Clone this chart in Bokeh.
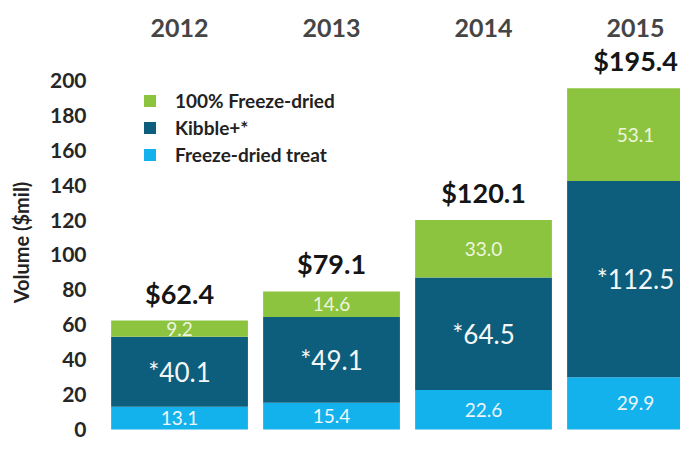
from bokeh.plotting import figure
from bokeh.models import ColumnDataSource, Range1d, LinearAxis, FixedTicker, Legend, LegendItem
from bokeh.core.properties import value
from bokeh.embed import file_html
from bokeh.resources import INLINE

years = ["2012", "2013", "2014", "2015"]
treat = [13.1, 15.4, 22.6, 29.9]
kibble = [40.1, 49.1, 64.5, 112.5]
freeze = [9.2, 14.6, 33.0, 53.1]
totals = ["$62.4", "$79.1", "$120.1", "$195.4"]
y_ticks = [0, 20, 40, 60, 80, 100, 120, 140, 160, 180, 200]

GREEN = "#8cc43f"
TEAL = "#0d5e7c"
BLUE = "#14b2ec"
FONT = "Lato"

xs = list(range(len(years)))
b1 = [0] * len(years)
t1 = [a for a in treat]
t2 = [a + b for a, b in zip(treat, kibble)]
t3 = [a + b + c for a, b, c in zip(treat, kibble, freeze)]

src = ColumnDataSource(dict(
    x=xs, b1=b1, t1=t1, t2=t2, t3=t3,
    m1=[(a + b) / 2 for a, b in zip(b1, t1)],
    m2=[(a + b) / 2 for a, b in zip(t1, t2)],
    m3=[(a + b) / 2 for a, b in zip(t2, t3)],
    l1=[f"{v:.1f}" for v in treat],
    l2=[f"*{v:.1f}" for v in kibble],
    l3=[f"{v:.1f}" for v in freeze],
    tot=totals,
))

p = figure(width=680, height=440, output_backend="svg", toolbar_location=None,
           x_range=Range1d(-0.52, 3.296), y_range=Range1d(-6.3, 220.6),
           min_border_left=100, min_border_right=0, min_border_top=44, min_border_bottom=0,
           outline_line_color=None, x_axis_location=None, y_axis_location=None)
p.grid.visible = False
p.background_fill_color = "white"
p.border_fill_color = "white"

r_blue = p.vbar(x="x", bottom="b1", top="t1", width=0.9, source=src, fill_color=BLUE, line_color=None)
r_teal = p.vbar(x="x", bottom="t1", top="t2", width=0.9, source=src, fill_color=TEAL, line_color=None)
r_green = p.vbar(x="x", bottom="t2", top="t3", width=0.9, source=src, fill_color=GREEN, line_color=None)

p.text(x="x", y="m1", text="l1", source=src, text_align="center", text_baseline="middle",
       text_color="#eef6fb", text_font=value(FONT), text_font_size="19px")
p.text(x="x", y="m2", text="l2", source=src, text_align="center", text_baseline="middle",
       text_color="#f4f7f8", text_font=value(FONT), text_font_size="26px")
p.text(x="x", y="m3", text="l3", source=src, text_align="center", text_baseline="middle",
       text_color="#eef5df", text_font=value(FONT), text_font_size="19px")
p.text(x="x", y="t3", text="tot", source=src, text_align="center", text_baseline="bottom",
       y_offset=-11, text_color="#151515", text_font=value(FONT), text_font_style="bold",
       text_font_size="27px")

yax = LinearAxis(ticker=FixedTicker(ticks=y_ticks), axis_label="Volume ($mil)")
yax.axis_line_color = None
yax.major_tick_line_color = None
yax.minor_tick_line_color = None
yax.major_label_standoff = 8
yax.major_label_text_font = FONT
yax.major_label_text_font_style = "bold"
yax.major_label_text_font_size = "21px"
yax.major_label_text_color = "#262626"
yax.axis_label_text_font = FONT
yax.axis_label_text_font_style = "bold"
yax.axis_label_text_font_size = "20px"
yax.axis_label_text_color = "#222222"
yax.axis_label_standoff = 14
p.add_layout(yax, "left")

xax = LinearAxis(ticker=FixedTicker(ticks=xs),
                 major_label_overrides={i: y for i, y in zip(xs, years)})
xax.axis_line_color = None
xax.major_tick_line_color = None
xax.minor_tick_line_color = None
xax.major_label_standoff = 2
xax.major_label_text_font = FONT
xax.major_label_text_font_style = "bold"
xax.major_label_text_font_size = "25px"
xax.major_label_text_color = "#454545"
p.add_layout(xax, "above")

legend = Legend(items=[
    LegendItem(label="100% Freeze-dried", renderers=[r_green]),
    LegendItem(label="Kibble+*", renderers=[r_teal]),
    LegendItem(label="Freeze-dried treat", renderers=[r_blue]),
], location=(42, 274))
legend.padding = 0
legend.margin = 0
legend.spacing = 4
legend.glyph_width = 15
legend.glyph_height = 15
legend.label_height = 22
legend.label_standoff = 18
legend.label_text_font = FONT
legend.label_text_font_style = "bold"
legend.label_text_font_size = "19px"
legend.label_text_color = "#222222"
legend.border_line_color = None
legend.background_fill_alpha = 0
p.add_layout(legend, "center")

open("out.html", "w").write(file_html(p, INLINE))
